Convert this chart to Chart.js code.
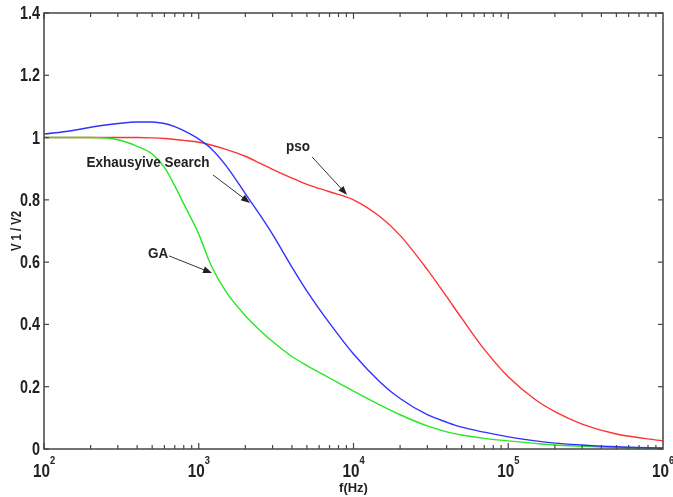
<!DOCTYPE html>
<html>
<head>
<meta charset="utf-8">
<script src="https://cdn.jsdelivr.net/npm/chart.js@4.4.1/dist/chart.umd.min.js"></script>
<style>
  html, body { margin: 0; padding: 0; background: #fff; }
  #wrap { width: 673px; height: 497px; position: relative; }
</style>
</head>
<body>
<div id="wrap"><canvas id="chart"></canvas></div>
<script>
// frequency points (Hz), shared by the three curves
const freqs = [100, 150, 200, 300, 400, 500, 600, 700, 800, 1000, 1200, 1500, 2000, 2500, 3000,
  4000, 5000, 7000, 10000, 15000, 20000, 30000, 40000, 50000, 70000, 100000, 150000, 200000,
  300000, 500000, 1000000];

// V1/V2
const exhaustive = [1.011, 1.022, 1.033, 1.045, 1.05, 1.05, 1.045, 1.035, 1.022, 0.995, 0.965, 0.91,
  0.82, 0.75, 0.689, 0.584, 0.507, 0.404, 0.305, 0.213, 0.162, 0.11, 0.086, 0.07, 0.054, 0.039, 0.026,
  0.019, 0.013, 0.007, 0.003];
const ga = [1.0, 1.0, 1.0, 0.993, 0.972, 0.947, 0.904, 0.845, 0.787, 0.69, 0.59, 0.505, 0.428, 0.38,
  0.345, 0.297, 0.268, 0.228, 0.186, 0.14, 0.11, 0.074, 0.055, 0.045, 0.034, 0.026, 0.018, 0.013,
  0.009, 0.005, 0.003];
const pso = [1.0, 1.0, 1.0, 1.0, 1.0, 0.999, 0.997, 0.994, 0.991, 0.985, 0.976, 0.962, 0.94, 0.917,
  0.898, 0.87, 0.85, 0.826, 0.8, 0.744, 0.686, 0.576, 0.489, 0.42, 0.32, 0.232, 0.158, 0.12, 0.08,
  0.048, 0.026];

const yTicks = [0, 0.2, 0.4, 0.6, 0.8, 1, 1.2, 1.4];
const xDecades = [2, 3, 4, 5, 6];

// text labels with arrows (data coords): text centre, arrow start, arrow tip
const notes = [
  { text: 'pso', x: 4375, y: 0.97, x0: 5395, y0: 0.938, x1: 9078, y1: 0.816 },
  { text: 'Exhausyive Search', x: 470, y: 0.918, x0: 1236, y0: 0.88, x1: 2143, y1: 0.79 },
  { text: 'GA', x: 546, y: 0.626, x0: 643, y0: 0.62, x1: 1219, y1: 0.565 }
];

const FONT = '"Liberation Sans", Arial, sans-serif';

function pts(arr) {
  return freqs.map((f, i) => ({ x: f, y: arr[i] }));
}

// text squeezed along its own direction, the reference font is narrow
function squeezed(ctx, txt, x, y, font, sx, align, rot) {
  ctx.save();
  ctx.translate(x, y);
  if (rot) ctx.rotate(rot);
  ctx.scale(sx, 1);
  ctx.font = font;
  ctx.textAlign = align;
  ctx.fillText(txt, 0, 0);
  ctx.restore();
}

// matlab style box, inward ticks, tick labels, titles, arrows
const matlabAxes = {
  id: 'matlabAxes',
  afterDraw(chart) {
    const { ctx, chartArea: a } = chart;
    const xs = chart.scales.x, ys = chart.scales.y;
    const seg = (x1, y1, x2, y2) => { ctx.beginPath(); ctx.moveTo(x1, y1); ctx.lineTo(x2, y2); ctx.stroke(); };
    ctx.save();
    ctx.strokeStyle = '#444';
    ctx.lineWidth = 1.5;
    ctx.strokeRect(a.left, a.top, a.right - a.left, a.bottom - a.top);

    ctx.lineWidth = 1.2;
    yTicks.forEach(v => {
      const py = ys.getPixelForValue(v);
      seg(a.left, py, a.left + 5, py);
      seg(a.right, py, a.right - 5, py);
    });
    for (let d = 2; d < 6; d++) {
      for (let m = 1; m <= 9; m++) {
        const px = xs.getPixelForValue(m * Math.pow(10, d));
        const len = m === 1 ? 6 : 4;
        seg(px, a.bottom, px, a.bottom - len);
        seg(px, a.top, px, a.top + len);
      }
    }

    ctx.fillStyle = '#222';
    ctx.textBaseline = 'middle';
    yTicks.forEach(v => {
      squeezed(ctx, String(v), a.left - 4, ys.getPixelForValue(v) + 1, 'bold 18px ' + FONT, 0.8, 'right');
    });

    // x tick labels 10^n
    ctx.textBaseline = 'alphabetic';
    const sx = 0.85;
    xDecades.forEach(d => {
      const px = xs.getPixelForValue(Math.pow(10, d));
      ctx.font = 'bold 18px ' + FONT;
      const w1 = ctx.measureText('10').width * sx;
      ctx.font = 'bold 11px ' + FONT;
      const w2 = ctx.measureText(String(d)).width * sx;
      const left = px - (w1 + w2) / 2;
      squeezed(ctx, '10', left, 477, 'bold 18px ' + FONT, sx, 'left');
      squeezed(ctx, String(d), left + w1, 464, 'bold 11px ' + FONT, sx, 'left');
    });

    // axis titles
    ctx.textAlign = 'center';
    ctx.font = 'bold 13px ' + FONT;
    ctx.fillText('f(Hz)', (a.left + a.right) / 2, 492);
    squeezed(ctx, 'V 1 / V2', 21, (a.top + a.bottom) / 2, 'bold 15px ' + FONT, 0.75, 'center', -Math.PI / 2);

    // notes
    notes.forEach(n => {
      ctx.textBaseline = 'middle';
      ctx.fillStyle = '#222';
      squeezed(ctx, n.text, xs.getPixelForValue(n.x), ys.getPixelForValue(n.y), 'bold 15px ' + FONT, 0.9, 'center');
      const x0 = xs.getPixelForValue(n.x0), y0 = ys.getPixelForValue(n.y0);
      const x1 = xs.getPixelForValue(n.x1), y1 = ys.getPixelForValue(n.y1);
      const ang = Math.atan2(y1 - y0, x1 - x0);
      const c = Math.cos(ang), s = Math.sin(ang);
      ctx.strokeStyle = '#333';
      ctx.lineWidth = 1;
      seg(x0, y0, x1 - 6 * c, y1 - 6 * s);
      ctx.beginPath();
      ctx.moveTo(x1, y1);
      ctx.lineTo(x1 - 9 * c + 3.5 * s, y1 - 9 * s - 3.5 * c);
      ctx.lineTo(x1 - 9 * c - 3.5 * s, y1 - 9 * s + 3.5 * c);
      ctx.closePath();
      ctx.fill();
    });
    ctx.restore();
  }
};

const lineStyle = { pointRadius: 0, borderWidth: 1.4, cubicInterpolationMode: 'monotone', fill: false };

new Chart(document.getElementById('chart'), {
  type: 'line',
  data: {
    datasets: [
      { label: 'Exhaustive Search', data: pts(exhaustive), borderColor: 'rgb(50,50,255)', ...lineStyle },
      { label: 'GA', data: pts(ga), borderColor: 'rgb(40,230,40)', ...lineStyle },
      { label: 'pso', data: pts(pso), borderColor: 'rgb(255,50,50)', ...lineStyle }
    ]
  },
  options: {
    responsive: true,
    maintainAspectRatio: false,
    animation: false,
    layout: { padding: { top: 13, right: 10, left: 0, bottom: 0 } },
    plugins: { legend: { display: false }, tooltip: { enabled: false } },
    scales: {
      x: {
        type: 'logarithmic',
        min: 100,
        max: 1000000,
        grid: { display: false, drawTicks: false },
        border: { display: false },
        ticks: { display: false },
        afterFit: s => { s.height = 48; }
      },
      y: {
        min: 0,
        max: 1.4,
        grid: { display: false, drawTicks: false },
        border: { display: false },
        ticks: { display: false, stepSize: 0.2 },
        afterFit: s => { s.width = 44; }
      }
    }
  },
  plugins: [matlabAxes]
});
</script>
</body>
</html>
